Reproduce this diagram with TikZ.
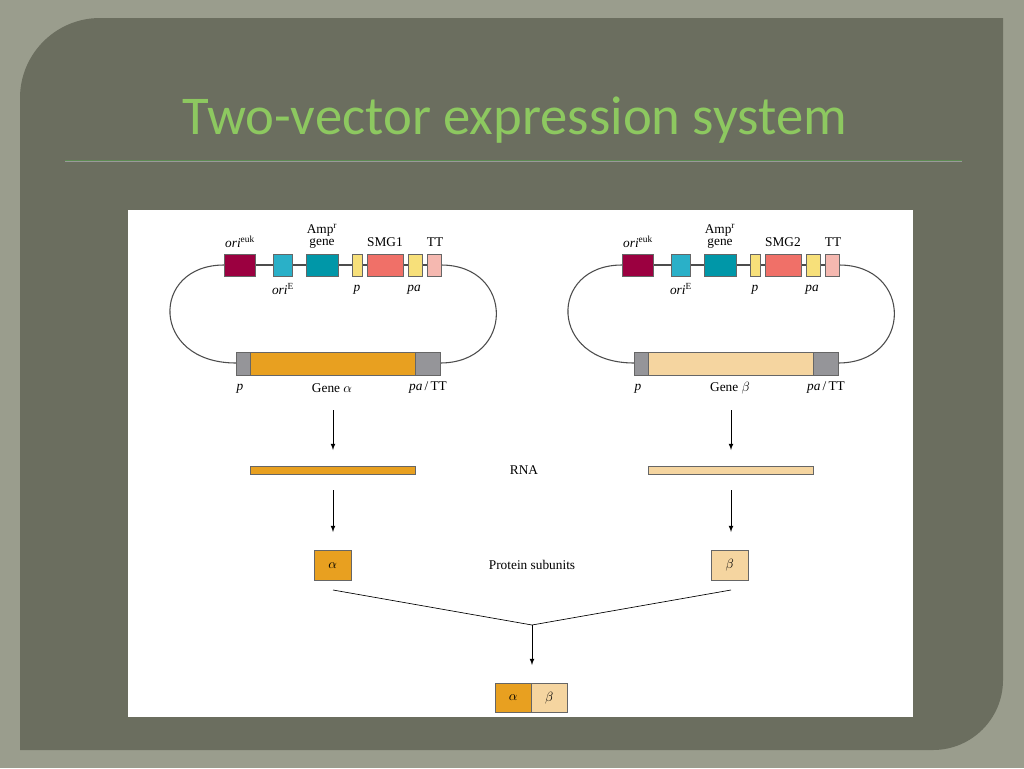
\documentclass[tikz,border=0pt]{standalone}
\usepackage{fontspec}
\setmainfont{Liberation Serif}
\newfontfamily\titlefont{Carlito}
\begin{document}
\begin{tikzpicture}[x=0.75pt,y=-0.75pt,
  box/.style={draw=black!60,line width=0.4pt,minimum height=16.5pt,inner sep=0,anchor=north west},
  lab/.style={font=\fontsize{10}{11}\selectfont,inner sep=0},
  arr/.style={-latex,line width=0.6pt},
  wire/.style={draw=black!70,line width=0.8pt}]
\definecolor{bg}{HTML}{9A9D8D}\definecolor{panel}{HTML}{6B6E5F}
\definecolor{oe}{HTML}{9B0040}\definecolor{oE}{HTML}{2AB0C8}\definecolor{amp}{HTML}{0097A8}
\definecolor{yel}{HTML}{F7E07A}\definecolor{smg}{HTML}{F07068}\definecolor{tt}{HTML}{F5B8B0}
\definecolor{gr}{HTML}{959599}\definecolor{ora}{HTML}{E8A020}\definecolor{lor}{HTML}{F5D5A0}
\definecolor{ttl}{HTML}{8DC860}\definecolor{rule}{HTML}{5D8B52}
\fill[bg] (0,0) rectangle (1024,768);
\useasboundingbox (0,0) rectangle (1024,768);
\fill[panel] (20,98) arc[start angle=180,end angle=90,x radius=80,y radius=-80] -- (1003,18) -- (1003,680) arc[start angle=0,end angle=-90,x radius=70,y radius=-70] -- (20,750) -- cycle;
\node[text=ttl, font=\titlefont\fontsize{41}{45}\selectfont] (title) at (515,120) {Two-vector expression system};
\draw[rule] (65,160) -- (962,160);
\draw[line width=1pt,black!40] (65,161.5) -- (962,161.5);
\fill[white] (128,210) rectangle (913,717);
\foreach \dx/\n/\g/\gc/\s in {0/L/Gene $\alpha$/ora/SMG1, 398/R/Gene $\beta$/lor/SMG2}{
 \begin{scope}[xshift=\dx*0.75pt]
 \coordinate (\n t1) at (224,265); \coordinate (\n t2) at (441,265);
 \draw[wire] (\n t1) -- (\n t2);
 \draw[wire] (\n t1) .. controls (150,265) and (150,363) .. (236,363);
 \draw[wire] (\n t2) .. controls (515,265) and (515,363) .. (440,363);
 \node[box,fill=oe,minimum width=23.25pt] (\n oe) at (224,254) {};
 \node[box,fill=oE,minimum width=14.25pt] (\n oE) at (273,254) {};
 \node[box,fill=amp,minimum width=24pt] (\n amp) at (306,254) {};
 \node[box,fill=yel,minimum width=7.5pt] (\n p) at (352,254) {};
 \node[box,fill=smg,minimum width=27pt] (\n smg) at (367,254) {};
 \node[box,fill=yel,minimum width=10.5pt] (\n pa) at (408,254) {};
 \node[box,fill=tt,minimum width=10.5pt] (\n tt) at (427,254) {};
 \node[box,fill=gr,minimum width=10.5pt,minimum height=17.25pt] (\n g1) at (236,352) {};
 \node[box,fill=\gc,minimum width=123.75pt,minimum height=17.25pt] (\n g) at (250,352) {};
 \node[box,fill=gr,minimum width=18.75pt,minimum height=17.25pt] (\n g2) at (415,352) {};
 \node[lab] at (240,242) {\textit{ori}$^{\mathrm{euk}}$};
 \node[lab,align=center] at (322,236) {Amp$^{\mathrm{r}}$\\[-2pt]gene};
 \node[lab] at (385,242) {\s};
 \node[lab] at (435,242) {TT};
 \node[lab] at (283,289) {\textit{ori}$^{\mathrm{E}}$};
 \node[lab] at (357,290) {\textit{p}};
 \node[lab] at (414,290) {\textit{pa}};
 \node[lab] at (240,389) {\textit{p}};
 \node[lab] at (332,388) {\g};
 \node[lab] at (428,388) {\textit{pa}\,/\,TT};
 \coordinate (\n a1) at (333,410); \coordinate (\n a2) at (333,450);
 \draw[arr] (\n a1) -- (\n a2);
 \node[box,fill=\gc,minimum width=123.75pt,minimum height=6pt] (\n rna) at (250,466) {};
 \coordinate (\n b1) at (333,490); \coordinate (\n b2) at (333,532);
 \draw[arr] (\n b1) -- (\n b2);
 \end{scope}}
\node[lab] (rna) at (524,470) {RNA};
\node[lab] (ps) at (532,565) {Protein subunits};
\node[box,fill=ora,minimum width=27.75pt,minimum height=22.5pt] (pa) at (314,550) {};
\node[lab] at (pa.center) {$\alpha$};
\node[box,fill=lor,minimum width=27.75pt,minimum height=22.5pt] (pb) at (711,550) {};
\node[lab] at (pb.center) {$\beta$};
\coordinate (j1) at (333,590); \coordinate (j2) at (731,590); \coordinate (jm) at (532,625); \coordinate (je) at (532,665);
\draw[line width=0.5pt] (j1) -- (jm) -- (j2);
\draw[arr] (jm) -- (je);
\node[box,fill=ora,minimum width=27pt,minimum height=22pt] (fa) at (495,683) {};
\node[lab] at (fa.center) {$\alpha$};
\node[box,fill=lor,minimum width=27pt,minimum height=22pt] (fb) at (531,683) {};
\node[lab] at (fb.center) {$\beta$};
\end{tikzpicture}
\end{document}
